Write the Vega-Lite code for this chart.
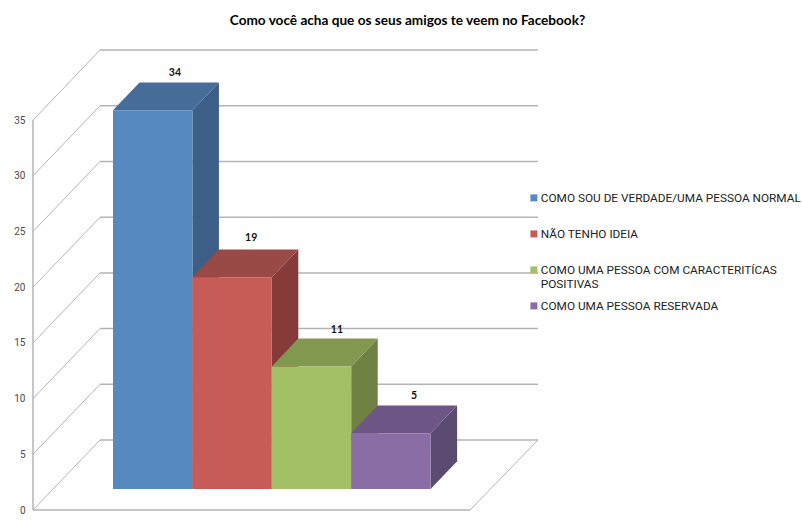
{
  "$schema": "https://vega.github.io/schema/vega-lite/v6.json",
  "autosize": "none",
  "width": 769,
  "height": 482,
  "padding": {"left": 33, "top": 40, "right": 0, "bottom": 0},
  "background": "white",
  "title": {
    "text": "Como você acha que os seus amigos te veem no Facebook?",
    "font": "Lato",
    "fontWeight": "bold",
    "fontSize": 13.6,
    "color": "#000000",
    "anchor": "middle",
    "dx": -10,
    "offset": 12
  },
  "config": {"view": {"stroke": null}},
  "datasets": {
    "barras": [
      {"resposta": "COMO SOU DE VERDADE/UMA PESSOA NORMAL", "valor": 34, "inicio": 0, "fim": 1, "x_rotulo": 0.78, "y_rotulo": 37.34},
      {"resposta": "NÃO TENHO IDEIA", "valor": 19, "inicio": 1, "fim": 2, "x_rotulo": 1.74, "y_rotulo": 22.53},
      {"resposta": "COMO UMA PESSOA COM CARACTERITÍCAS POSITIVAS", "valor": 11, "inicio": 2, "fim": 3, "x_rotulo": 2.82, "y_rotulo": 14.27},
      {"resposta": "COMO UMA PESSOA RESERVADA", "valor": 5, "inicio": 3, "fim": 4, "x_rotulo": 3.79, "y_rotulo": 8.35}
    ],
    "lateral": [
      {"resposta": "COMO SOU DE VERDADE/UMA PESSOA NORMAL", "x": 1, "base": 0, "topo": 34},
      {"resposta": "COMO SOU DE VERDADE/UMA PESSOA NORMAL", "x": 1.334, "base": 2.5, "topo": 36.5},
      {"resposta": "NÃO TENHO IDEIA", "x": 2, "base": 0, "topo": 19},
      {"resposta": "NÃO TENHO IDEIA", "x": 2.334, "base": 2.5, "topo": 21.5},
      {"resposta": "COMO UMA PESSOA COM CARACTERITÍCAS POSITIVAS", "x": 3, "base": 0, "topo": 11},
      {"resposta": "COMO UMA PESSOA COM CARACTERITÍCAS POSITIVAS", "x": 3.334, "base": 2.5, "topo": 13.5},
      {"resposta": "COMO UMA PESSOA RESERVADA", "x": 4, "base": 0, "topo": 5},
      {"resposta": "COMO UMA PESSOA RESERVADA", "x": 4.334, "base": 2.5, "topo": 7.5}
    ],
    "tampo": [
      {"resposta": "COMO SOU DE VERDADE/UMA PESSOA NORMAL", "nivel": 34, "ini": 0, "fim": 1},
      {"resposta": "COMO SOU DE VERDADE/UMA PESSOA NORMAL", "nivel": 36.5, "ini": 0.334, "fim": 1.334},
      {"resposta": "NÃO TENHO IDEIA", "nivel": 19, "ini": 1, "fim": 2},
      {"resposta": "NÃO TENHO IDEIA", "nivel": 21.5, "ini": 1.334, "fim": 2.334},
      {"resposta": "COMO UMA PESSOA COM CARACTERITÍCAS POSITIVAS", "nivel": 11, "ini": 2, "fim": 3},
      {"resposta": "COMO UMA PESSOA COM CARACTERITÍCAS POSITIVAS", "nivel": 13.5, "ini": 2.334, "fim": 3.334},
      {"resposta": "COMO UMA PESSOA RESERVADA", "nivel": 5, "ini": 3, "fim": 4},
      {"resposta": "COMO UMA PESSOA RESERVADA", "nivel": 7.5, "ini": 3.334, "fim": 4.334}
    ],
    "diagonais": [
      {"x0": -1.0076, "x1": -0.1637, "y0": 0, "y1": 6.283},
      {"x0": -1.0076, "x1": -0.1637, "y0": 5, "y1": 11.283},
      {"x0": -1.0076, "x1": -0.1637, "y0": 10, "y1": 16.283},
      {"x0": -1.0076, "x1": -0.1637, "y0": 15, "y1": 21.283},
      {"x0": -1.0076, "x1": -0.1637, "y0": 20, "y1": 26.283},
      {"x0": -1.0076, "x1": -0.1637, "y0": 25, "y1": 31.283},
      {"x0": -1.0076, "x1": -0.1637, "y0": 30, "y1": 36.283},
      {"x0": -1.0076, "x1": -0.1637, "y0": 35, "y1": 41.283},
      {"x0": 4.4962, "x1": 5.3526, "y0": 0, "y1": 6.283}
    ],
    "linhas": [
      {"x0": -0.1637, "x1": 5.3526, "y0": 6.283, "y1": 6.283},
      {"x0": -0.1637, "x1": 5.3526, "y0": 11.283, "y1": 11.283},
      {"x0": -0.1637, "x1": 5.3526, "y0": 16.283, "y1": 16.283},
      {"x0": -0.1637, "x1": 5.3526, "y0": 21.283, "y1": 21.283},
      {"x0": -0.1637, "x1": 5.3526, "y0": 26.283, "y1": 26.283},
      {"x0": -0.1637, "x1": 5.3526, "y0": 31.283, "y1": 31.283},
      {"x0": -0.1637, "x1": 5.3526, "y0": 36.283, "y1": 36.283},
      {"x0": -0.1637, "x1": 5.3526, "y0": 41.283, "y1": 41.283},
      {"x0": -1.0076, "x1": 4.4962, "y0": 0, "y1": 0},
      {"x0": -1.0076, "x1": -1.0076, "y0": 0, "y1": 35}
    ]
  },
  "resolve": {"scale": {"y": "independent", "color": "independent"}},
  "layer": [
    {
      "data": {"name": "linhas"},
      "mark": {"type": "rule", "stroke": "#b4b4b4", "strokeWidth": 1.5},
      "encoding": {
        "x": {"field": "x0", "type": "quantitative", "axis": null, "scale": {"domain": [-1.0076, 8.6776], "nice": false, "zero": false}},
        "x2": {"field": "x1"},
        "y": {
          "field": "y0",
          "type": "quantitative",
          "scale": {"domain": [-1.077, 42.19], "nice": false, "zero": false},
          "axis": {
            "title": null,
            "values": [0, 5, 10, 15, 20, 25, 30, 35],
            "domain": false,
            "grid": false,
            "ticks": false,
            "labelPadding": 8,
            "labelFont": "Roboto",
            "labelFontSize": 10,
            "labelColor": "#4a4a4a"
          }
        },
        "y2": {"field": "y1"}
      }
    },
    {
      "data": {"name": "diagonais"},
      "mark": {"type": "rule", "stroke": "#b4b4b4", "strokeWidth": 1},
      "encoding": {
        "x": {"field": "x0", "type": "quantitative", "axis": null, "scale": {"domain": [-1.0076, 8.6776], "nice": false, "zero": false}},
        "x2": {"field": "x1"},
        "y": {"field": "y0", "type": "quantitative", "axis": null, "scale": {"domain": [-1.077, 42.19], "nice": false, "zero": false}},
        "y2": {"field": "y1"}
      }
    },
    {
      "data": {"name": "lateral"},
      "mark": {"type": "area", "interpolate": "linear"},
      "encoding": {
        "x": {"field": "x", "type": "quantitative", "axis": null, "scale": {"domain": [-1.0076, 8.6776], "nice": false, "zero": false}},
        "y": {"field": "topo", "type": "quantitative", "stack": null, "axis": null, "scale": {"domain": [-2.962, 40.305], "nice": false, "zero": false}},
        "y2": {"field": "base"},
        "color": {
          "field": "resposta",
          "type": "nominal",
          "legend": null,
          "scale": {
            "domain": ["COMO SOU DE VERDADE/UMA PESSOA NORMAL", "NÃO TENHO IDEIA", "COMO UMA PESSOA COM CARACTERITÍCAS POSITIVAS", "COMO UMA PESSOA RESERVADA"],
            "range": ["#3d5f87", "#863b3a", "#6f8243", "#5c4a70"]
          }
        }
      }
    },
    {
      "data": {"name": "tampo"},
      "mark": {"type": "area", "orient": "horizontal", "interpolate": "linear"},
      "encoding": {
        "y": {"field": "nivel", "type": "quantitative", "axis": null, "scale": {"domain": [-2.962, 40.305], "nice": false, "zero": false}},
        "x": {"field": "ini", "type": "quantitative", "stack": null, "axis": null, "scale": {"domain": [-1.0076, 8.6776], "nice": false, "zero": false}},
        "x2": {"field": "fim"},
        "color": {
          "field": "resposta",
          "type": "nominal",
          "legend": null,
          "scale": {
            "domain": ["COMO SOU DE VERDADE/UMA PESSOA NORMAL", "NÃO TENHO IDEIA", "COMO UMA PESSOA COM CARACTERITÍCAS POSITIVAS", "COMO UMA PESSOA RESERVADA"],
            "range": ["#466c98", "#994946", "#83984f", "#6d5685"]
          }
        }
      }
    },
    {
      "data": {"name": "barras"},
      "mark": {"type": "rect"},
      "encoding": {
        "x": {"field": "inicio", "type": "quantitative", "axis": null, "scale": {"domain": [-1.0076, 8.6776], "nice": false, "zero": false}},
        "x2": {"field": "fim"},
        "y": {"field": "valor", "type": "quantitative", "axis": null, "scale": {"domain": [-2.962, 40.305], "nice": false, "zero": false}},
        "y2": {"datum": 0},
        "color": {
          "field": "resposta",
          "type": "nominal",
          "scale": {
            "domain": ["COMO SOU DE VERDADE/UMA PESSOA NORMAL", "NÃO TENHO IDEIA", "COMO UMA PESSOA COM CARACTERITÍCAS POSITIVAS", "COMO UMA PESSOA RESERVADA"],
            "range": ["#5789c1", "#c75b58", "#a4c067", "#8a6da7"]
          },
          "legend": {
            "title": null,
            "orient": "none",
            "legendX": 495,
            "legendY": 152,
            "symbolType": "square",
            "symbolSize": 49,
            "symbolStrokeWidth": 0,
            "labelFont": "Roboto",
            "labelFontSize": 11.8,
            "labelColor": "#222222",
            "labelLimit": 300,
            "labelOffset": 1,
            "gridAlign": "all",
            "columns": 1,
            "rowPadding": 9,
            "labelExpr": "datum.label == 'COMO UMA PESSOA COM CARACTERITÍCAS POSITIVAS' ? ['COMO UMA PESSOA COM CARACTERITÍCAS', 'POSITIVAS'] : datum.label"
          }
        }
      }
    },
    {
      "data": {"name": "barras"},
      "mark": {"type": "text", "font": "Lato", "fontWeight": "bold", "fontSize": 10.5, "color": "#111111", "baseline": "middle", "align": "center"},
      "encoding": {
        "x": {"field": "x_rotulo", "type": "quantitative", "axis": null, "scale": {"domain": [-1.0076, 8.6776], "nice": false, "zero": false}},
        "y": {"field": "y_rotulo", "type": "quantitative", "axis": null, "scale": {"domain": [-2.962, 40.305], "nice": false, "zero": false}},
        "text": {"field": "valor", "type": "quantitative"}
      }
    }
  ]
}
